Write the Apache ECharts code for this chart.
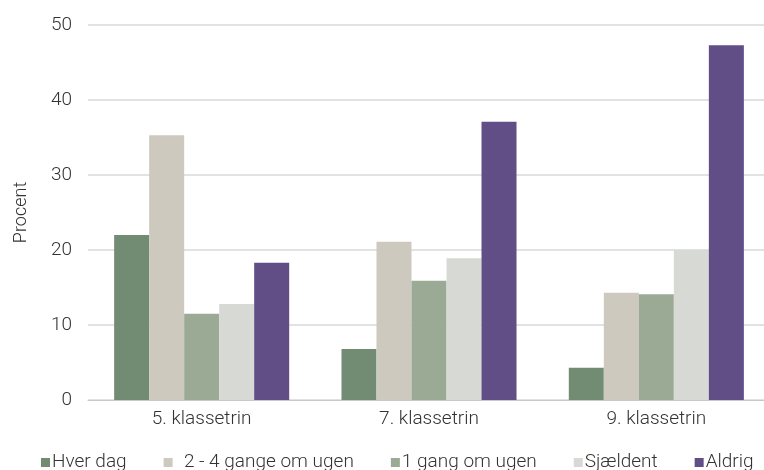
<!DOCTYPE html>
<html>
<head>
<meta charset="utf-8">
<script src="https://cdn.jsdelivr.net/npm/echarts@6/dist/echarts.min.js"></script>
<style>
  html, body { margin: 0; padding: 0; background: #fff; }
  #main { width: 764px; height: 470px; }
</style>
</head>
<body>
<div id="main"></div>
<script>
// categories and series values (procent)
var categories = ['5. klassetrin', '7. klassetrin', '9. klassetrin'];
var seriesNames = ['Hver dag', '2 - 4 gange om ugen', '1 gang om ugen', 'Sjældent', 'Aldrig'];
var hverDag = [22.0, 6.8, 4.3];
var toFireGange = [35.3, 21.1, 14.3];
var enGang = [11.5, 15.9, 14.1];
var sjaeldent = [12.8, 18.9, 20.0];
var aldrig = [18.3, 37.1, 47.3];
var yTicks = [0, 10, 20, 30, 40, 50];

var colors = ['#728c73', '#cdc9be', '#9aaa95', '#d7dad4', '#614e87'];
var values = [hverDag, toFireGange, enGang, sjaeldent, aldrig];

var Chart = echarts.init(document.getElementById('main'));

var series = seriesNames.map(function (name, i) {
  return {
    name: name,
    type: 'bar',
    data: values[i],
    barGap: '0%',
    barCategoryGap: '23%',
    itemStyle: { color: colors[i] }
  };
});

var option = {
  animation: false,
  textStyle: { fontFamily: 'Roboto', fontWeight: 300 },
  grid: { left: 88, right: -6, top: 25, bottom: 70, outerBoundsMode: 'none', containLabel: false },
  legend: {
    top: 448,
    left: 36,
    itemWidth: 9,
    itemHeight: 9,
    itemGap: 37,
    icon: 'rect',
    textStyle: { fontSize: 19, fontWeight: 300, color: '#333', padding: [0, 0, 0, -3] },
    formatter: function (n) { return n === '2 - 4 gange om ugen' ? '  ' + n : n; },
    data: seriesNames
  },
  xAxis: {
    type: 'category',
    data: categories,
    axisTick: { show: false },
    axisLine: { lineStyle: { color: '#c8c8c8' } },
    axisLabel: { fontSize: 19, fontWeight: 300, color: '#333', margin: 10 }
  },
  yAxis: {
    type: 'value',
    min: yTicks[0],
    max: yTicks[yTicks.length - 1],
    interval: 10,
    name: 'Procent',
    nameLocation: 'middle',
    nameGap: 58,
    nameTextStyle: { fontSize: 18, fontWeight: 300, color: '#333' },
    axisLabel: { fontSize: 19, fontWeight: 300, color: '#333', margin: 16 },
    axisLine: { show: false },
    axisTick: { show: false },
    splitLine: { lineStyle: { color: '#d9d9d9', width: 1.5 } }
  },
  series: series
};

Chart.setOption(option);
</script>
</body>
</html>
